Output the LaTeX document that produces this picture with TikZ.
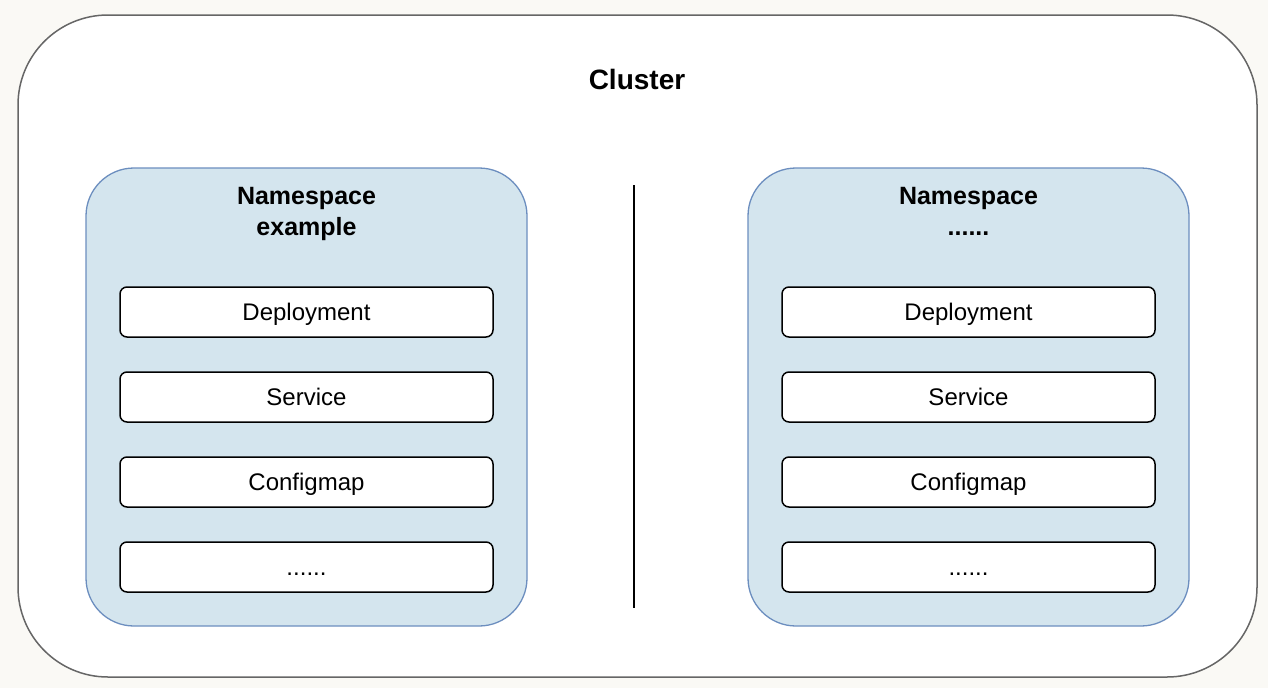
\documentclass[tikz,border=0pt]{standalone}
\usepackage{fontspec}
\setmainfont{Liberation Sans}
\definecolor{bgc}{RGB}{250,249,245}
\definecolor{nsfill}{RGB}{212,229,238}
\definecolor{nsdraw}{RGB}{108,142,191}
\definecolor{cldraw}{RGB}{102,102,102}
\tikzset{
 clusterbox/.style={draw=cldraw, fill=white, line width=1.5pt, rounded corners=90pt, minimum width=1239pt, minimum height=662pt, inner sep=0pt},
 nsbox/.style={draw=nsdraw, fill=nsfill, line width=1.3pt, rounded corners=48pt, minimum width=441pt, minimum height=458pt, inner sep=0pt},
 itembox/.style={draw=black, fill=white, line width=1.5pt, rounded corners=7pt, minimum width=373pt, minimum height=50pt, inner sep=0pt, font=\fontsize{24}{29}\selectfont, text height=17.2pt, text depth=0pt},
 titletext/.style={font=\bfseries\fontsize{28}{34}\selectfont, anchor=base, inner sep=0pt},
 nstext/.style={font=\bfseries\fontsize{25}{30}\selectfont, anchor=base, inner sep=0pt},
 divider/.style={draw=black, line width=1.5pt},
}
\begin{document}
\begin{tikzpicture}[x=1pt,y=-1pt]
\fill[bgc] (0,0) rectangle (1268,688);
\useasboundingbox (0,0) rectangle (1268,688);
\node[clusterbox] (cl) at (637.5,346) {};
\node[titletext] (cltitle) at (637,89) {Cluster};
% left namespace
\node[nsbox] (nsl) at (306.5,397) {};
\node[nstext] (nsl1) at (306.5,204) {Namespace};
\node[nstext] (nsl2) at (306.5,235) {example};
\node[itembox] (l1) at (306.5,312) {Deployment};
\node[itembox] (l2) at (306.5,397) {Service};
\node[itembox] (l3) at (306.5,482) {Configmap};
\node[itembox] (l4) at (306.5,567) {......};
% right namespace
\node[nsbox] (nsr) at (968.5,397) {};
\node[nstext] (nsr1) at (968.5,204) {Namespace};
\node[nstext] (nsr2) at (968.5,235) {......};
\node[itembox] (r1) at (968.5,312) {Deployment};
\node[itembox] (r2) at (968.5,397) {Service};
\node[itembox] (r3) at (968.5,482) {Configmap};
\node[itembox] (r4) at (968.5,567) {......};
% divider
\coordinate (dtop) at (634,185);
\coordinate (dbot) at (634,608);
\draw[divider] (dtop) -- (dbot);
\end{tikzpicture}
\end{document}
